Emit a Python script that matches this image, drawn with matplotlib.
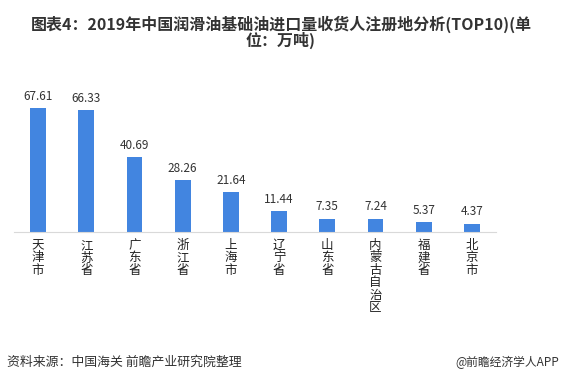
import matplotlib.pyplot as plt

plt.rcParams['font.family'] = ['Noto Sans CJK SC', 'DejaVu Sans']

# Data
regions = ["天津市", "江苏省", "广东省", "浙江省", "上海市",
           "辽宁省", "山东省", "内蒙古自治区", "福建省", "北京市"]
values = [67.61, 66.33, 40.69, 28.26, 21.64, 11.44, 7.35, 7.24, 5.37, 4.37]

fig = plt.figure(figsize=(5.62, 3.86), dpi=100)
ax = fig.add_axes([14 / 562, 154 / 386, 482 / 562, 146.7 / 386])

x = list(range(len(regions)))
bars = ax.bar(x, values, width=0.33, color="#4285E0")
ax.set_xlim(-0.5, len(regions) - 0.5)
ax.set_ylim(0, 80)

for xi, v in zip(x, values):
    ax.text(xi, v + 3, f"{v:.2f}", ha="center", va="bottom",
            fontsize=8.5, color="#333333")

for s in ["top", "right", "left"]:
    ax.spines[s].set_visible(False)
ax.spines["bottom"].set_color("#D9D9D9")
ax.set_yticks([])
ax.set_xticks(x)
ax.set_xticklabels(["\n".join(r) for r in regions], fontsize=9,
                   color="#222222", va="top", linespacing=0.95)
ax.tick_params(axis="x", length=0, pad=5)

fig.text(0.5, 0.96, "图表4：2019年中国润滑油基础油进口量收货人注册地分析(TOP10)(单\n位：万吨)",
         ha="center", va="top", fontsize=11.5, fontweight="bold",
         color="#333333", linespacing=0.95)
fig.text(0.012, 0.062, "资料来源：中国海关 前瞻产业研究院整理", ha="left", va="center",
         fontsize=9.3, color="#333333")
fig.text(0.995, 0.062, "@前瞻经济学人APP", ha="right", va="center",
         fontsize=8.5, color="#333333")

fig.savefig("out.png", dpi=100)
